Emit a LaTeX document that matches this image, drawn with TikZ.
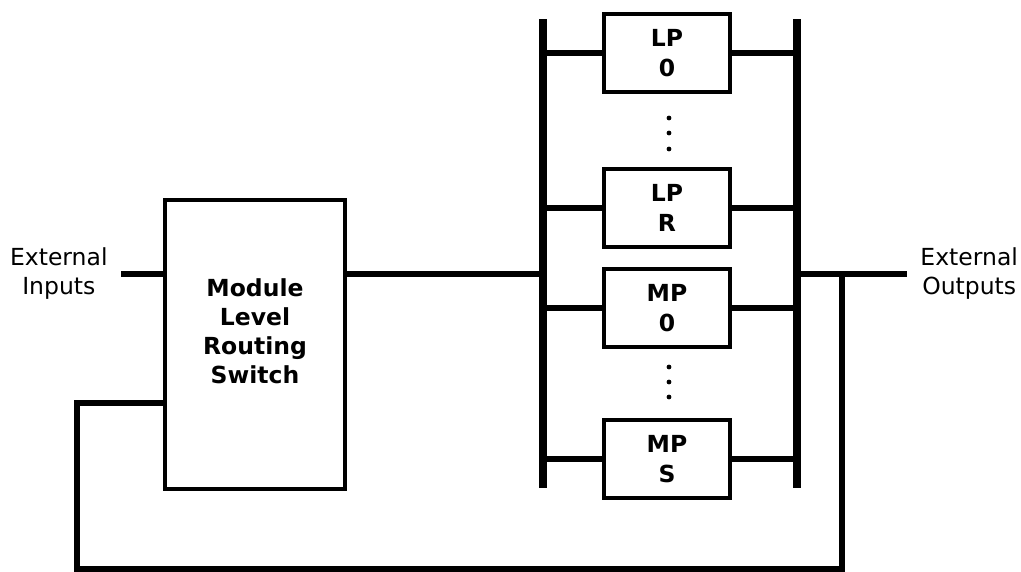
\documentclass[tikz,border=0pt]{standalone}
\usepackage{fontspec}
\setmainfont{DejaVu Sans}
\usetikzlibrary{positioning,calc}

\begin{document}
\begin{tikzpicture}[x=0.025cm, y=-0.025cm,
  box/.style={draw, line width=2.8pt, inner sep=0, minimum width=4.5cm, minimum height=7.225cm},
  pe/.style={draw, line width=2.6pt, inner sep=0, minimum width=3.15cm, minimum height=1.95cm, align=center, font=\bfseries\fontsize{16.7}{21}\selectfont},
  wire/.style={line width=4.8pt},
  bus/.style={line width=5pt},
  lbl/.style={align=center, inner sep=0, font=\fontsize{16.7}{20.6}\selectfont}
]
\useasboundingbox (0,0) rectangle (1021,572);

% routing switch
\node[box] (msw) at (255,344.5) {};
\node[lbl, font=\bfseries\fontsize{16.7}{20.6}\selectfont] (msw text) at (255,331) {Module\\Level\\Routing\\Switch};

% processing elements
\node[pe] (lp0) at (667,53) {LP\\0};
\node[pe] (lpr) at (667,208) {LP\\R};
\node[pe] (mp0) at (667,308) {MP\\0};
\node[pe] (mps) at (667,459) {MP\\S};
\foreach \y in {118,133,149,367,382,397}
  \fill (669,\y) circle[radius=0.06cm];

% buses
\coordinate (lbus top) at (543,19);
\coordinate (lbus bot) at (543,488);
\coordinate (rbus top) at (797,19);
\coordinate (rbus bot) at (797,488);
\draw[bus] (lbus top) -- (lbus bot);
\draw[bus] (rbus top) -- (rbus bot);
\foreach \p in {lp0,lpr,mp0,mps}{
  \draw[wire] (\p.west -| lbus top) -- (\p.west);
  \draw[wire] (\p.east) -- (\p.east -| rbus top);
}

% inputs, outputs and feedback
\coordinate (in) at (121,274);
\coordinate (out) at (907,274);
\coordinate (tap) at (842,274);
\coordinate (fb bot) at (77,569);
\coordinate (fb top) at (77,403);
\draw[wire] (in) -- (in -| msw.west);
\draw[wire] (in -| msw.east) -- (in -| lbus top);
\draw[wire] (out -| rbus top) -- (out);
\draw[wire] (tap) |- (fb bot) -- (fb top) -- (fb top -| msw.west);

\node[lbl, left=0.33cm of in] (in lbl) {External\\Inputs};
\node[lbl, right=0.33cm of out] (out lbl) {External\\Outputs};
\end{tikzpicture}
\end{document}
